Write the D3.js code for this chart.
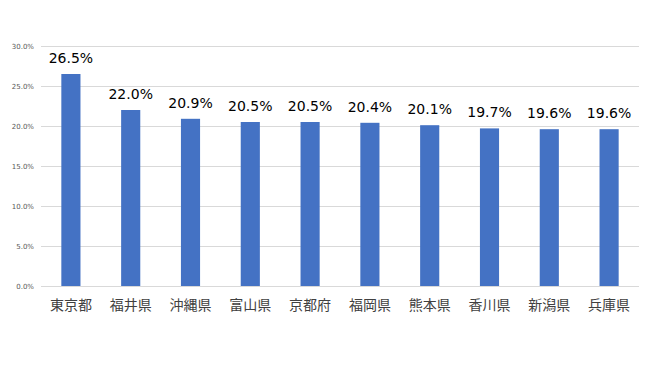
<!DOCTYPE html>
<html>
<head>
<meta charset="utf-8">
<script src="https://cdn.jsdelivr.net/npm/d3@7"></script>
<style>
  body { margin: 0; background: #fff; }
</style>
</head>
<body>
<script>
// 都道府県と割合
var prefectures = ["東京都", "福井県", "沖縄県", "富山県", "京都府", "福岡県", "熊本県", "香川県", "新潟県", "兵庫県"];
var rates = [26.5, 22.0, 20.9, 20.5, 20.5, 20.4, 20.1, 19.7, 19.6, 19.6];
var yTicks = [0, 5, 10, 15, 20, 25, 30];

var width = 650, height = 365;
var margin = {top: 46, right: 11, bottom: 79, left: 41};
var w = width - margin.left - margin.right;
var h = height - margin.top - margin.bottom;

var svg = d3.select("body").append("svg")
    .attr("width", width)
    .attr("height", height);

var g = svg.append("g")
    .attr("transform", "translate(" + margin.left + "," + margin.top + ")");

var x = d3.scaleBand()
    .domain(prefectures)
    .range([0, w])
    .paddingInner(0.68)
    .paddingOuter(0.34);

var y = d3.scaleLinear()
    .domain([0, 30])
    .range([h, 0]);

// 目盛り線
var yAxis = d3.axisLeft(y)
    .tickValues(yTicks)
    .tickSize(-w)
    .tickPadding(7)
    .tickFormat(function(d){ return d.toFixed(1) + "%"; });

g.append("g").attr("class", "y axis").call(yAxis)
  .call(function(a){
    a.select(".domain").remove();
    a.selectAll("line").attr("stroke", "#d9d9d9").attr("stroke-width", 1);
    a.selectAll("text")
      .attr("fill", "#595959")
      .style("font-family", "'DejaVu Sans', sans-serif")
      .style("font-size", "7px");
  });

// 棒
g.selectAll(".bar").data(rates)
  .enter().append("rect")
  .attr("class", "bar")
  .attr("x", function(d, i){ return x(prefectures[i]); })
  .attr("width", x.bandwidth())
  .attr("y", function(d){ return y(d); })
  .attr("height", function(d){ return h - y(d); })
  .attr("fill", "#4472c4");

// 値ラベル
g.selectAll(".val").data(rates)
  .enter().append("text")
  .attr("class", "val")
  .attr("x", function(d, i){ return x(prefectures[i]) + x.bandwidth() / 2; })
  .attr("y", function(d){ return y(d) - 11; })
  .attr("text-anchor", "middle")
  .attr("fill", "#000")
  .style("font-family", "'DejaVu Sans', sans-serif")
  .style("font-size", "14px")
  .text(function(d){ return d.toFixed(1) + "%"; });

// x軸ラベル
var xAxis = d3.axisBottom(x).tickSize(0).tickPadding(14);
g.append("g").attr("class", "x axis")
  .attr("transform", "translate(0," + h + ")")
  .call(xAxis)
  .call(function(a){
    a.select(".domain").remove();
    a.selectAll("text")
      .attr("fill", "#404040")
      .style("font-family", "'Noto Sans CJK JP', sans-serif")
      .style("font-size", "14px");
  });
</script>
</body>
</html>
